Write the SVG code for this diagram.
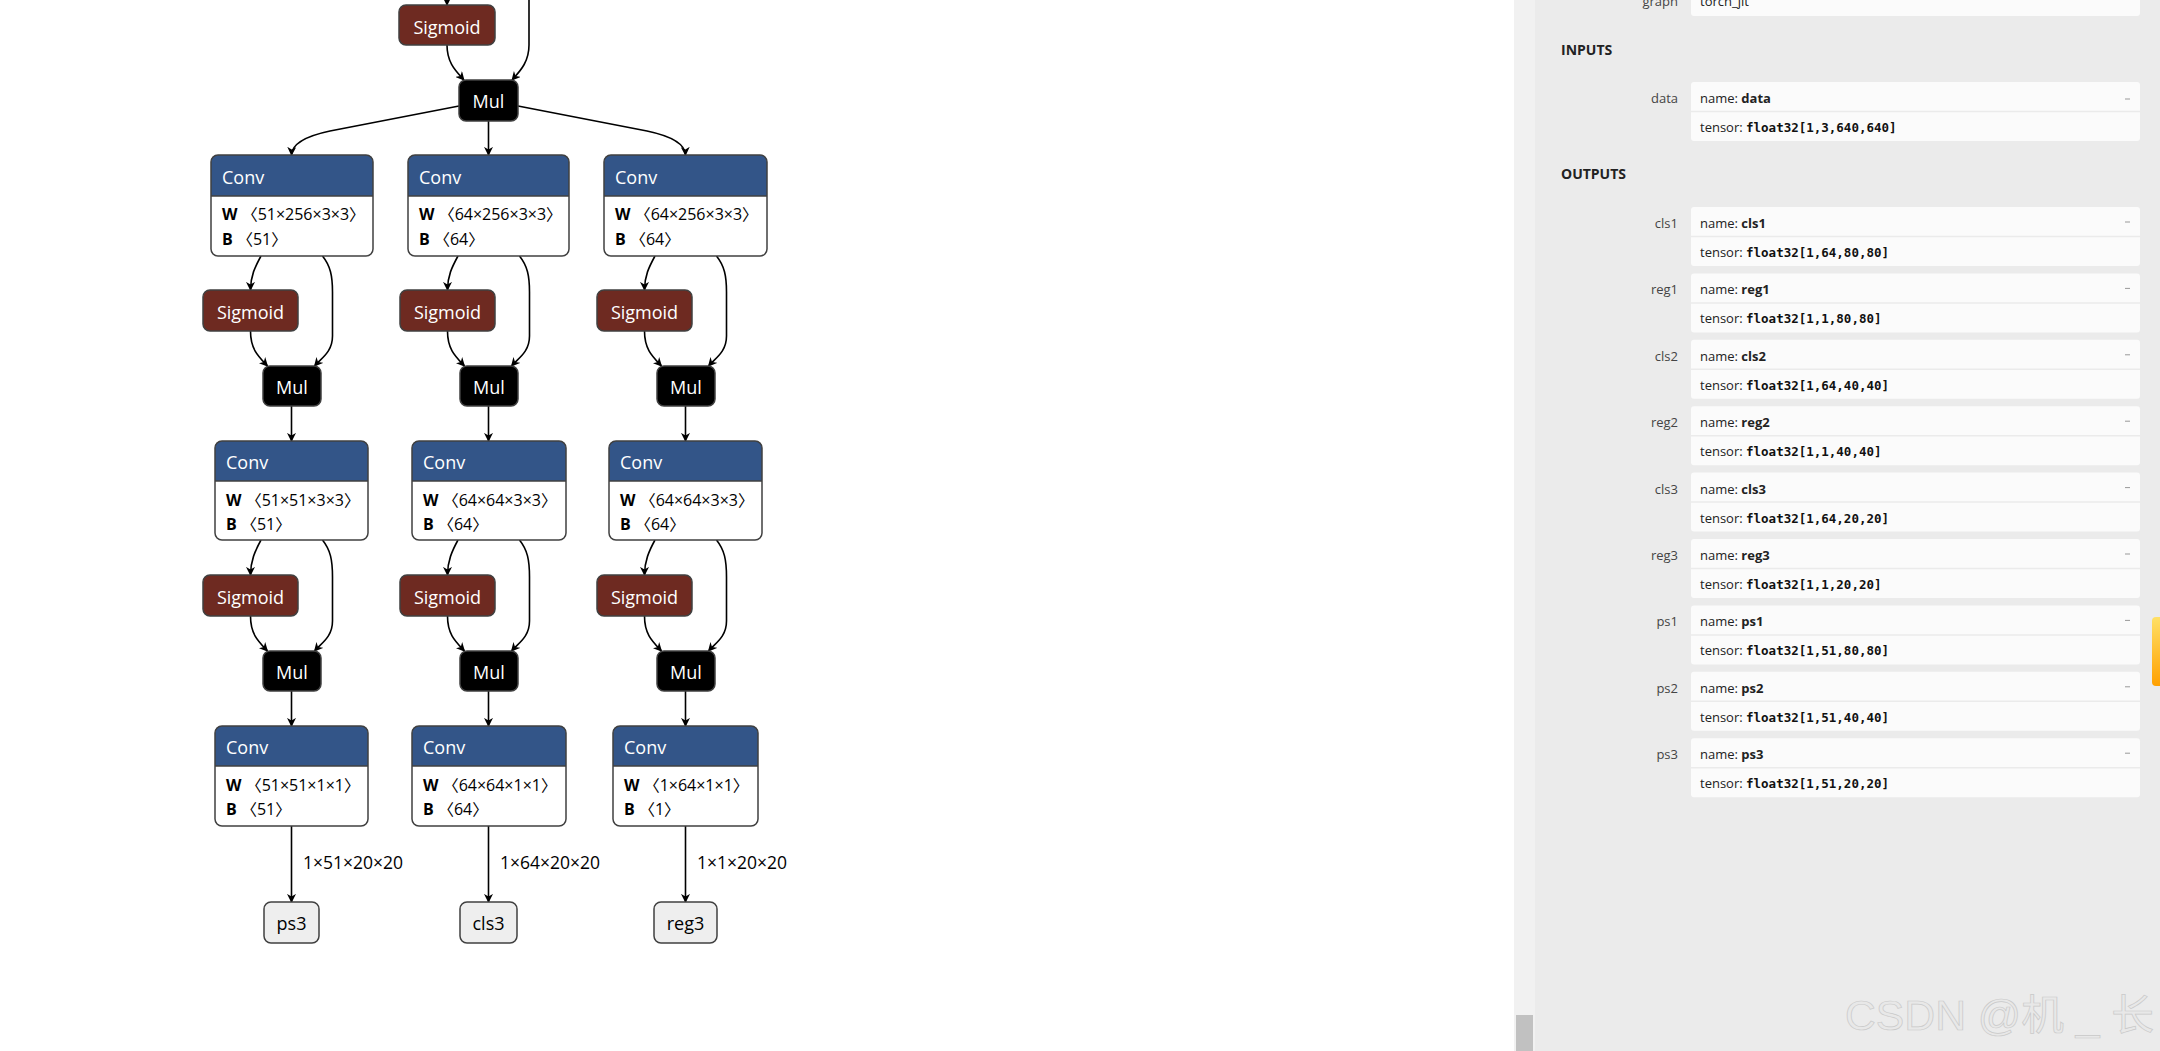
<svg xmlns="http://www.w3.org/2000/svg" width="2160" height="1051" viewBox="0 0 2160 1051">
<defs>
<marker id="arr" viewBox="0 0 10 10" refX="9" refY="5" markerWidth="9" markerHeight="9" markerUnits="userSpaceOnUse" orient="auto"><path d="M0,0 L10,5 L0,10 L3,5 Z" fill="#000"/></marker>
<linearGradient id="og" x1="0" y1="0" x2="0" y2="1"><stop offset="0" stop-color="#ffe066"/><stop offset="1" stop-color="#ffa000"/></linearGradient>
</defs>
<style>
.edge{fill:none;stroke:#000;stroke-width:1.6;marker-end:url(#arr)}
.body{fill:#fff}
.ol{fill:none;stroke:#404040;stroke-width:1.5}
.hdr{fill:#335588}
.sep{stroke:#404040;stroke-width:1.5}
.sig{fill:#6e2a21;stroke:#404040;stroke-width:1.5}
.mul{fill:#000;stroke:#404040;stroke-width:1.5}
.out{fill:#eeeeee;stroke:#404040;stroke-width:1.5}
.t{font-family:"Open Sans","Noto Sans CJK SC",sans-serif}
.ht{font-size:18px;fill:#fff}
.ct{font-size:18px;fill:#fff;text-anchor:middle}
.ot{font-size:18px;fill:#000;text-anchor:middle}
.at{font-size:16px;fill:#000}
.el{font-size:17.5px;fill:#000}
.b{font-weight:bold}
.sb{font-family:"Open Sans",sans-serif;font-size:13px;fill:#222}
.lb{font-family:"Open Sans",sans-serif;font-size:13px;fill:#444;text-anchor:end}
.hd{font-family:"Open Sans",sans-serif;font-size:14px;font-weight:bold;fill:#222}
.mono{font-family:"DejaVu Sans Mono",monospace;font-size:12.5px;font-weight:bold;fill:#111}
.card{fill:#fbfbfb}
.dv{stroke:#ebebeb;stroke-width:1.5}
.dash{stroke:#999;stroke-width:1}
</style>
<rect x="0" y="0" width="2160" height="1051" fill="#fff"/>

<g id="connectors">
<path class="edge" d="M447,-10 L447,5"/>
<path class="edge" d="M529,-10 L529,45 C529,63 519,72 512,80"/>
<path class="edge" d="M447,45 C447,63 456,71 464,80"/>
<path class="edge" d="M459,106 L330,131 Q292,139 291.5,155"/>
<path class="edge" d="M488.5,121 L488.5,155"/>
<path class="edge" d="M518,106 L647,131 Q685,139 685.5,155"/>

<path class="edge" d="M261,256 C255,267 250.5,276 250.5,290"/>
<path class="edge" d="M322.5,256 C330.5,266 332.5,276 332.5,292 L332.5,336 C332.5,352 321.5,358 314.5,366"/>
<path class="edge" d="M250.5,331 C250.5,349 258,356 267.5,366"/>
<path class="edge" d="M291.5,406 L291.5,441"/>
<path class="edge" d="M261,540 C255,551 250.5,561 250.5,575"/>
<path class="edge" d="M322.5,540 C330.5,550 332.5,560 332.5,577 L332.5,621 C332.5,637 321.5,643 314.5,651"/>
<path class="edge" d="M250.5,616 C250.5,634 258,641 267.5,651"/>
<path class="edge" d="M291.5,691 L291.5,726"/>
<path class="edge" d="M291.5,826 L291.5,902"/>

<path class="edge" d="M458,256 C452,267 447.5,276 447.5,290"/>
<path class="edge" d="M519.5,256 C527.5,266 529.5,276 529.5,292 L529.5,336 C529.5,352 518.5,358 511.5,366"/>
<path class="edge" d="M447.5,331 C447.5,349 455,356 464.5,366"/>
<path class="edge" d="M488.5,406 L488.5,441"/>
<path class="edge" d="M458,540 C452,551 447.5,561 447.5,575"/>
<path class="edge" d="M519.5,540 C527.5,550 529.5,560 529.5,577 L529.5,621 C529.5,637 518.5,643 511.5,651"/>
<path class="edge" d="M447.5,616 C447.5,634 455,641 464.5,651"/>
<path class="edge" d="M488.5,691 L488.5,726"/>
<path class="edge" d="M488.5,826 L488.5,902"/>

<path class="edge" d="M655,256 C649,267 644.5,276 644.5,290"/>
<path class="edge" d="M716.5,256 C724.5,266 726.5,276 726.5,292 L726.5,336 C726.5,352 715.5,358 708.5,366"/>
<path class="edge" d="M644.5,331 C644.5,349 652,356 661.5,366"/>
<path class="edge" d="M685.5,406 L685.5,441"/>
<path class="edge" d="M655,540 C649,551 644.5,561 644.5,575"/>
<path class="edge" d="M716.5,540 C724.5,550 726.5,560 726.5,577 L726.5,621 C726.5,637 715.5,643 708.5,651"/>
<path class="edge" d="M644.5,616 C644.5,634 652,641 661.5,651"/>
<path class="edge" d="M685.5,691 L685.5,726"/>
<path class="edge" d="M685.5,826 L685.5,902"/>

<text class="t el" x="303" y="869">1×51×20×20</text>
<text class="t el" x="500" y="869">1×64×20×20</text>
<text class="t el" x="697" y="869">1×1×20×20</text>
</g>

<g id="sigmoid_top"><rect class="sig" x="399" y="5" width="96" height="40" rx="7"/><text class="t ct" x="447" y="33.5">Sigmoid</text></g>
<g id="mul_top"><rect class="mul" x="459" y="80" width="59" height="41" rx="7"/><text class="t ct" x="488.5" y="108">Mul</text></g>

<!-- Column 1 -->
<g id="conv_1_1">
<rect class="body" x="211" y="155" width="162" height="101" rx="7"/>
<path class="hdr" d="M211,196 V162 Q211,155 218,155 H366 Q373,155 373,162 V196 Z"/>
<line class="sep" x1="211" y1="196" x2="373" y2="196"/>
<rect class="ol" x="211" y="155" width="162" height="101" rx="7"/>
<text class="t ht" x="222" y="184">Conv</text>
<text class="t at" x="222" y="220"><tspan class="b">W</tspan> 〈51×256×3×3〉</text>
<text class="t at" x="222" y="245"><tspan class="b">B</tspan> 〈51〉</text>
</g>
<g id="sigmoid_1_1"><rect class="sig" x="203" y="290" width="95" height="41" rx="7"/><text class="t ct" x="250.5" y="318.5">Sigmoid</text></g>
<g id="mul_1_1"><rect class="mul" x="263" y="366" width="58" height="40" rx="7"/><text class="t ct" x="292" y="394">Mul</text></g>
<g id="conv_1_2">
<rect class="body" x="215" y="441" width="153" height="99" rx="7"/>
<path class="hdr" d="M215,481 V448 Q215,441 222,441 H361 Q368,441 368,448 V481 Z"/>
<line class="sep" x1="215" y1="481" x2="368" y2="481"/>
<rect class="ol" x="215" y="441" width="153" height="99" rx="7"/>
<text class="t ht" x="226" y="469">Conv</text>
<text class="t at" x="226" y="506"><tspan class="b">W</tspan> 〈51×51×3×3〉</text>
<text class="t at" x="226" y="530"><tspan class="b">B</tspan> 〈51〉</text>
</g>
<g id="sigmoid_1_2"><rect class="sig" x="203" y="575" width="95" height="41" rx="7"/><text class="t ct" x="250.5" y="603.5">Sigmoid</text></g>
<g id="mul_1_2"><rect class="mul" x="263" y="651" width="58" height="40" rx="7"/><text class="t ct" x="292" y="679">Mul</text></g>
<g id="conv_1_3">
<rect class="body" x="215" y="726" width="153" height="100" rx="7"/>
<path class="hdr" d="M215,766 V733 Q215,726 222,726 H361 Q368,726 368,733 V766 Z"/>
<line class="sep" x1="215" y1="766" x2="368" y2="766"/>
<rect class="ol" x="215" y="726" width="153" height="100" rx="7"/>
<text class="t ht" x="226" y="754">Conv</text>
<text class="t at" x="226" y="791"><tspan class="b">W</tspan> 〈51×51×1×1〉</text>
<text class="t at" x="226" y="815"><tspan class="b">B</tspan> 〈51〉</text>
</g>
<g id="out_ps3"><rect class="out" x="264" y="902" width="55" height="41" rx="7"/><text class="t ot" x="291.5" y="930">ps3</text></g>

<!-- Column 2 -->
<g id="conv_2_1">
<rect class="body" x="408" y="155" width="161" height="101" rx="7"/>
<path class="hdr" d="M408,196 V162 Q408,155 415,155 H562 Q569,155 569,162 V196 Z"/>
<line class="sep" x1="408" y1="196" x2="569" y2="196"/>
<rect class="ol" x="408" y="155" width="161" height="101" rx="7"/>
<text class="t ht" x="419" y="184">Conv</text>
<text class="t at" x="419" y="220"><tspan class="b">W</tspan> 〈64×256×3×3〉</text>
<text class="t at" x="419" y="245"><tspan class="b">B</tspan> 〈64〉</text>
</g>
<g id="sigmoid_2_1"><rect class="sig" x="400" y="290" width="95" height="41" rx="7"/><text class="t ct" x="447.5" y="318.5">Sigmoid</text></g>
<g id="mul_2_1"><rect class="mul" x="460" y="366" width="58" height="40" rx="7"/><text class="t ct" x="489" y="394">Mul</text></g>
<g id="conv_2_2">
<rect class="body" x="412" y="441" width="154" height="99" rx="7"/>
<path class="hdr" d="M412,481 V448 Q412,441 419,441 H559 Q566,441 566,448 V481 Z"/>
<line class="sep" x1="412" y1="481" x2="566" y2="481"/>
<rect class="ol" x="412" y="441" width="154" height="99" rx="7"/>
<text class="t ht" x="423" y="469">Conv</text>
<text class="t at" x="423" y="506"><tspan class="b">W</tspan> 〈64×64×3×3〉</text>
<text class="t at" x="423" y="530"><tspan class="b">B</tspan> 〈64〉</text>
</g>
<g id="sigmoid_2_2"><rect class="sig" x="400" y="575" width="95" height="41" rx="7"/><text class="t ct" x="447.5" y="603.5">Sigmoid</text></g>
<g id="mul_2_2"><rect class="mul" x="460" y="651" width="58" height="40" rx="7"/><text class="t ct" x="489" y="679">Mul</text></g>
<g id="conv_2_3">
<rect class="body" x="412" y="726" width="154" height="100" rx="7"/>
<path class="hdr" d="M412,766 V733 Q412,726 419,726 H559 Q566,726 566,733 V766 Z"/>
<line class="sep" x1="412" y1="766" x2="566" y2="766"/>
<rect class="ol" x="412" y="726" width="154" height="100" rx="7"/>
<text class="t ht" x="423" y="754">Conv</text>
<text class="t at" x="423" y="791"><tspan class="b">W</tspan> 〈64×64×1×1〉</text>
<text class="t at" x="423" y="815"><tspan class="b">B</tspan> 〈64〉</text>
</g>
<g id="out_cls3"><rect class="out" x="460" y="902" width="57" height="41" rx="7"/><text class="t ot" x="488.5" y="930">cls3</text></g>

<!-- Column 3 -->
<g id="conv_3_1">
<rect class="body" x="604" y="155" width="163" height="101" rx="7"/>
<path class="hdr" d="M604,196 V162 Q604,155 611,155 H760 Q767,155 767,162 V196 Z"/>
<line class="sep" x1="604" y1="196" x2="767" y2="196"/>
<rect class="ol" x="604" y="155" width="163" height="101" rx="7"/>
<text class="t ht" x="615" y="184">Conv</text>
<text class="t at" x="615" y="220"><tspan class="b">W</tspan> 〈64×256×3×3〉</text>
<text class="t at" x="615" y="245"><tspan class="b">B</tspan> 〈64〉</text>
</g>
<g id="sigmoid_3_1"><rect class="sig" x="597" y="290" width="95" height="41" rx="7"/><text class="t ct" x="644.5" y="318.5">Sigmoid</text></g>
<g id="mul_3_1"><rect class="mul" x="657" y="366" width="58" height="40" rx="7"/><text class="t ct" x="686" y="394">Mul</text></g>
<g id="conv_3_2">
<rect class="body" x="609" y="441" width="153" height="99" rx="7"/>
<path class="hdr" d="M609,481 V448 Q609,441 616,441 H755 Q762,441 762,448 V481 Z"/>
<line class="sep" x1="609" y1="481" x2="762" y2="481"/>
<rect class="ol" x="609" y="441" width="153" height="99" rx="7"/>
<text class="t ht" x="620" y="469">Conv</text>
<text class="t at" x="620" y="506"><tspan class="b">W</tspan> 〈64×64×3×3〉</text>
<text class="t at" x="620" y="530"><tspan class="b">B</tspan> 〈64〉</text>
</g>
<g id="sigmoid_3_2"><rect class="sig" x="597" y="575" width="95" height="41" rx="7"/><text class="t ct" x="644.5" y="603.5">Sigmoid</text></g>
<g id="mul_3_2"><rect class="mul" x="657" y="651" width="58" height="40" rx="7"/><text class="t ct" x="686" y="679">Mul</text></g>
<g id="conv_3_3">
<rect class="body" x="613" y="726" width="145" height="100" rx="7"/>
<path class="hdr" d="M613,766 V733 Q613,726 620,726 H751 Q758,726 758,733 V766 Z"/>
<line class="sep" x1="613" y1="766" x2="758" y2="766"/>
<rect class="ol" x="613" y="726" width="145" height="100" rx="7"/>
<text class="t ht" x="624" y="754">Conv</text>
<text class="t at" x="624" y="791"><tspan class="b">W</tspan> 〈1×64×1×1〉</text>
<text class="t at" x="624" y="815"><tspan class="b">B</tspan> 〈1〉</text>
</g>
<g id="out_reg3"><rect class="out" x="654" y="902" width="63" height="41" rx="7"/><text class="t ot" x="685.5" y="930">reg3</text></g>

<!-- Sidebar -->
<g id="sidebar">
<rect x="1514" y="0" width="646" height="1051" fill="#ebebeb"/>
<rect x="1514" y="0" width="21" height="1051" fill="#f1f1f1"/>
<rect x="1516" y="1015" width="17" height="36" fill="#c1c1c1"/>
<path d="M2160,617 L2156,617 Q2152,617 2152,621 L2152,682 Q2152,686 2156,686 L2160,686 Z" fill="url(#og)"/>

<rect class="card" x="1691" y="-40" width="449" height="56" rx="3"/>
<text class="lb" x="1678" y="6">graph</text>
<text class="sb" x="1700" y="6">torch_jit</text>

<text class="hd" x="1561" y="55">INPUTS</text>
<rect class="card" x="1691" y="82" width="449" height="59" rx="3"/>
<line class="dv" x1="1691" y1="111.5" x2="2140" y2="111.5"/>
<text class="lb" x="1678" y="103">data</text>
<text class="sb" x="1700" y="103">name: <tspan font-weight="bold">data</tspan></text>
<text class="sb" x="1700" y="132">tensor: <tspan class="mono">float32[1,3,640,640]</tspan></text>
<line class="dash" x1="2125" y1="99" x2="2130" y2="99"/>

<text class="hd" x="1561" y="179">OUTPUTS</text>

<rect class="card" x="1691" y="207" width="449" height="59" rx="3"/>
<line class="dv" x1="1691" y1="236.5" x2="2140" y2="236.5"/>
<text class="lb" x="1678" y="228">cls1</text>
<text class="sb" x="1700" y="228">name: <tspan font-weight="bold">cls1</tspan></text>
<text class="sb" x="1700" y="257">tensor: <tspan class="mono">float32[1,64,80,80]</tspan></text>
<line class="dash" x1="2125" y1="222" x2="2130" y2="222"/>

<rect class="card" x="1691" y="273.4" width="449" height="59" rx="3"/>
<line class="dv" x1="1691" y1="302.9" x2="2140" y2="302.9"/>
<text class="lb" x="1678" y="294.4">reg1</text>
<text class="sb" x="1700" y="294.4">name: <tspan font-weight="bold">reg1</tspan></text>
<text class="sb" x="1700" y="323.4">tensor: <tspan class="mono">float32[1,1,80,80]</tspan></text>
<line class="dash" x1="2125" y1="288.4" x2="2130" y2="288.4"/>

<rect class="card" x="1691" y="339.8" width="449" height="59" rx="3"/>
<line class="dv" x1="1691" y1="369.3" x2="2140" y2="369.3"/>
<text class="lb" x="1678" y="360.8">cls2</text>
<text class="sb" x="1700" y="360.8">name: <tspan font-weight="bold">cls2</tspan></text>
<text class="sb" x="1700" y="389.8">tensor: <tspan class="mono">float32[1,64,40,40]</tspan></text>
<line class="dash" x1="2125" y1="354.8" x2="2130" y2="354.8"/>

<rect class="card" x="1691" y="406.2" width="449" height="59" rx="3"/>
<line class="dv" x1="1691" y1="435.7" x2="2140" y2="435.7"/>
<text class="lb" x="1678" y="427.2">reg2</text>
<text class="sb" x="1700" y="427.2">name: <tspan font-weight="bold">reg2</tspan></text>
<text class="sb" x="1700" y="456.2">tensor: <tspan class="mono">float32[1,1,40,40]</tspan></text>
<line class="dash" x1="2125" y1="421.2" x2="2130" y2="421.2"/>

<rect class="card" x="1691" y="472.6" width="449" height="59" rx="3"/>
<line class="dv" x1="1691" y1="502.1" x2="2140" y2="502.1"/>
<text class="lb" x="1678" y="493.6">cls3</text>
<text class="sb" x="1700" y="493.6">name: <tspan font-weight="bold">cls3</tspan></text>
<text class="sb" x="1700" y="522.6">tensor: <tspan class="mono">float32[1,64,20,20]</tspan></text>
<line class="dash" x1="2125" y1="487.6" x2="2130" y2="487.6"/>

<rect class="card" x="1691" y="539" width="449" height="59" rx="3"/>
<line class="dv" x1="1691" y1="568.5" x2="2140" y2="568.5"/>
<text class="lb" x="1678" y="560">reg3</text>
<text class="sb" x="1700" y="560">name: <tspan font-weight="bold">reg3</tspan></text>
<text class="sb" x="1700" y="589">tensor: <tspan class="mono">float32[1,1,20,20]</tspan></text>
<line class="dash" x1="2125" y1="554" x2="2130" y2="554"/>

<rect class="card" x="1691" y="605.4" width="449" height="59" rx="3"/>
<line class="dv" x1="1691" y1="634.9" x2="2140" y2="634.9"/>
<text class="lb" x="1678" y="626.4">ps1</text>
<text class="sb" x="1700" y="626.4">name: <tspan font-weight="bold">ps1</tspan></text>
<text class="sb" x="1700" y="655.4">tensor: <tspan class="mono">float32[1,51,80,80]</tspan></text>
<line class="dash" x1="2125" y1="620.4" x2="2130" y2="620.4"/>

<rect class="card" x="1691" y="671.8" width="449" height="59" rx="3"/>
<line class="dv" x1="1691" y1="701.3" x2="2140" y2="701.3"/>
<text class="lb" x="1678" y="692.8">ps2</text>
<text class="sb" x="1700" y="692.8">name: <tspan font-weight="bold">ps2</tspan></text>
<text class="sb" x="1700" y="721.8">tensor: <tspan class="mono">float32[1,51,40,40]</tspan></text>
<line class="dash" x1="2125" y1="686.8" x2="2130" y2="686.8"/>

<rect class="card" x="1691" y="738.2" width="449" height="59" rx="3"/>
<line class="dv" x1="1691" y1="767.7" x2="2140" y2="767.7"/>
<text class="lb" x="1678" y="759.2">ps3</text>
<text class="sb" x="1700" y="759.2">name: <tspan font-weight="bold">ps3</tspan></text>
<text class="sb" x="1700" y="788.2">tensor: <tspan class="mono">float32[1,51,20,20]</tspan></text>
<line class="dash" x1="2125" y1="753.2" x2="2130" y2="753.2"/>

<text x="1845" y="1030" font-family="Liberation Sans,'Noto Sans CJK SC',sans-serif" font-size="42" fill="#e8e8e8" stroke="#c9c9c9" stroke-width="0.7" textLength="309" lengthAdjust="spacingAndGlyphs">CSDN @机 _ 长</text>
</g>
</svg>
